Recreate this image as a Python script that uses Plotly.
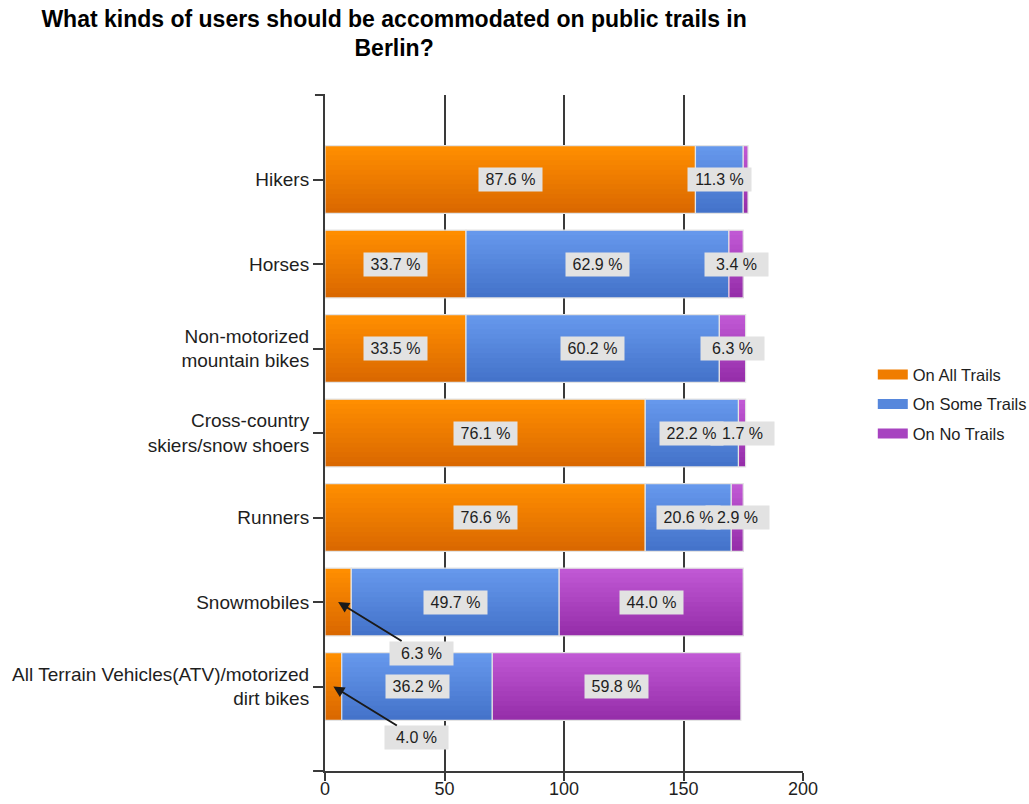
import plotly.graph_objects as go

# Survey responses (counts of respondents) per user type
categories = [
    "Hikers",
    "Horses",
    "Non-motorized<br>mountain bikes",
    "Cross-country<br>skiers/snow shoers",
    "Runners",
    "Snowmobiles",
    "All Terrain Vehicles(ATV)/motorized<br>dirt bikes",
]
all_trails = [155, 59, 59, 134, 134, 11, 7]
some_trails = [20, 110, 106, 39, 36, 87, 63]
no_trails = [2, 6, 11, 3, 5, 77, 104]

# Percentage shares printed on the segments
pct_all = [87.6, 33.7, 33.5, 76.1, 76.6, 6.3, 4.0]
pct_some = [11.3, 62.9, 60.2, 22.2, 20.6, 49.7, 36.2]
pct_no = [1.1, 3.4, 6.3, 1.7, 2.9, 44.0, 59.8]

x_ticks = [0, 50, 100, 150, 200]

FONT = "Liberation Sans, Arial, sans-serif"
TXT = "#1e1e1e"

series = [
    ("On All Trails", all_trails, pct_all, (255, 142, 0), (218, 104, 0), "#f07d00"),
    ("On Some Trails", some_trails, pct_some, (102, 152, 236), (68, 115, 202), "#5687dc"),
    ("On No Trails", no_trails, pct_no, (192, 88, 212), (150, 46, 170), "#a743c0"),
]

BAR_W = 0.8
STRIPS = 14


def mix(c1, c2, t):
    return "rgb(%d,%d,%d)" % tuple(round(a + (b - a) * t) for a, b in zip(c1, c2))


fig = go.Figure()

bases = [0] * len(categories)
label_specs = []
for name, vals, pcts, top, bottom, solid in series:
    # vertical gradient: each layer runs from its own top edge down to the bar bottom
    for k in range(STRIPS):
        off = -BAR_W / 2 + k * BAR_W / STRIPS
        fig.add_trace(go.Bar(
            y=categories, x=vals, base=bases, orientation="h",
            offset=off, width=BAR_W / 2 - off,
            marker=dict(color=mix(top, bottom, k / (STRIPS - 1)), line=dict(width=0)),
            showlegend=False, hoverinfo="skip",
        ))
    # light outline around each segment
    fig.add_trace(go.Bar(
        y=categories, x=vals, base=bases, orientation="h",
        offset=-BAR_W / 2, width=BAR_W,
        marker=dict(color="rgba(0,0,0,0)", line=dict(color="#e4e4e4", width=1.2)),
        showlegend=False, name=name,
        customdata=pcts,
        hovertemplate="%{y}: %{x} (%{customdata:.1f} %)<extra>" + name + "</extra>",
    ))
    # legend swatch
    fig.add_trace(go.Scatter(
        x=[None], y=[None], mode="lines", name=name, legendgroup=name,
        line=dict(color=solid, width=12),
    ))
    for i, (v, p) in enumerate(zip(vals, pcts)):
        label_specs.append((name, i, bases[i] + v / 2, v, p))
    bases = [b + v for b, v in zip(bases, vals)]

# value labels: all grey boxes first, then all texts on top of them
for layer in ("box", "text"):
    for name, i, xc, v, p in label_specs:
        if p < 1.5:
            continue
        arrow = name == "On All Trails" and v < 15
        fig.add_annotation(
            x=xc, y=categories[i], xref="x", yref="y",
            text="%.1f %%" % p,
            font=dict(family=FONT, size=16,
                      color="rgba(0,0,0,0)" if layer == "box" else TXT),
            bgcolor="#e2e2e2" if layer == "box" else "rgba(0,0,0,0)",
            borderpad=3, width=57, height=17,
            showarrow=arrow,
            ax=83 if arrow else 0, ay=51 if arrow else 0,
            arrowhead=2, arrowsize=1.1, arrowwidth=2,
            arrowcolor="#1a1a1a" if layer == "box" else "rgba(0,0,0,0)",
            standoff=0,
        )

# small tick at the top of the category axis and left stub of the value axis
fig.add_shape(type="line", xref="paper", yref="paper", x0=-0.021, x1=0, y0=1, y1=1,
              line=dict(color="#3a3a3a", width=2))
fig.add_shape(type="line", xref="paper", yref="paper", x0=-0.025, x1=0, y0=0, y1=0,
              line=dict(color="#3a3a3a", width=2))

fig.update_layout(
    width=1029, height=804,
    margin=dict(l=325, r=226, t=95, b=33, autoexpand=False),
    paper_bgcolor="white", plot_bgcolor="white",
    barmode="overlay",
    title=dict(
        text="<b>What kinds of users should be accommodated on public trails in<br>Berlin?</b>",
        x=0.383, xanchor="center", xref="container",
        y=0.967, yanchor="middle", yref="container",
        font=dict(family=FONT, size=23, color="#000000"),
    ),
    font=dict(family=FONT, size=18, color=TXT),
    legend=dict(
        x=1.146, xanchor="left", y=0.5425, yanchor="middle",
        font=dict(family=FONT, size=16.5, color=TXT),
        traceorder="grouped", tracegroupgap=5,
        bgcolor="rgba(0,0,0,0)",
    ),
    xaxis=dict(
        range=[0, 200], tickvals=x_ticks, ticktext=[str(t) for t in x_ticks],
        showgrid=True, gridcolor="#3a3a3a", gridwidth=2,
        showline=True, linecolor="#3a3a3a", linewidth=2,
        ticks="outside", ticklen=8, tickwidth=2, tickcolor="#3a3a3a",
        ticklabelstandoff=-8,
        zeroline=False, fixedrange=True, automargin=False,
        tickfont=dict(family=FONT, size=18, color=TXT),
    ),
    yaxis=dict(
        type="category", categoryorder="array", categoryarray=categories,
        range=[len(categories), -1],
        showgrid=False, zeroline=False,
        showline=True, linecolor="#3a3a3a", linewidth=2,
        ticks="outside", ticklen=10, tickwidth=1.5, tickcolor="#3a3a3a",
        tickfont=dict(family=FONT, size=19, color=TXT),
        fixedrange=True, automargin=False,
    ),
)

fig.write_html("out.html")
